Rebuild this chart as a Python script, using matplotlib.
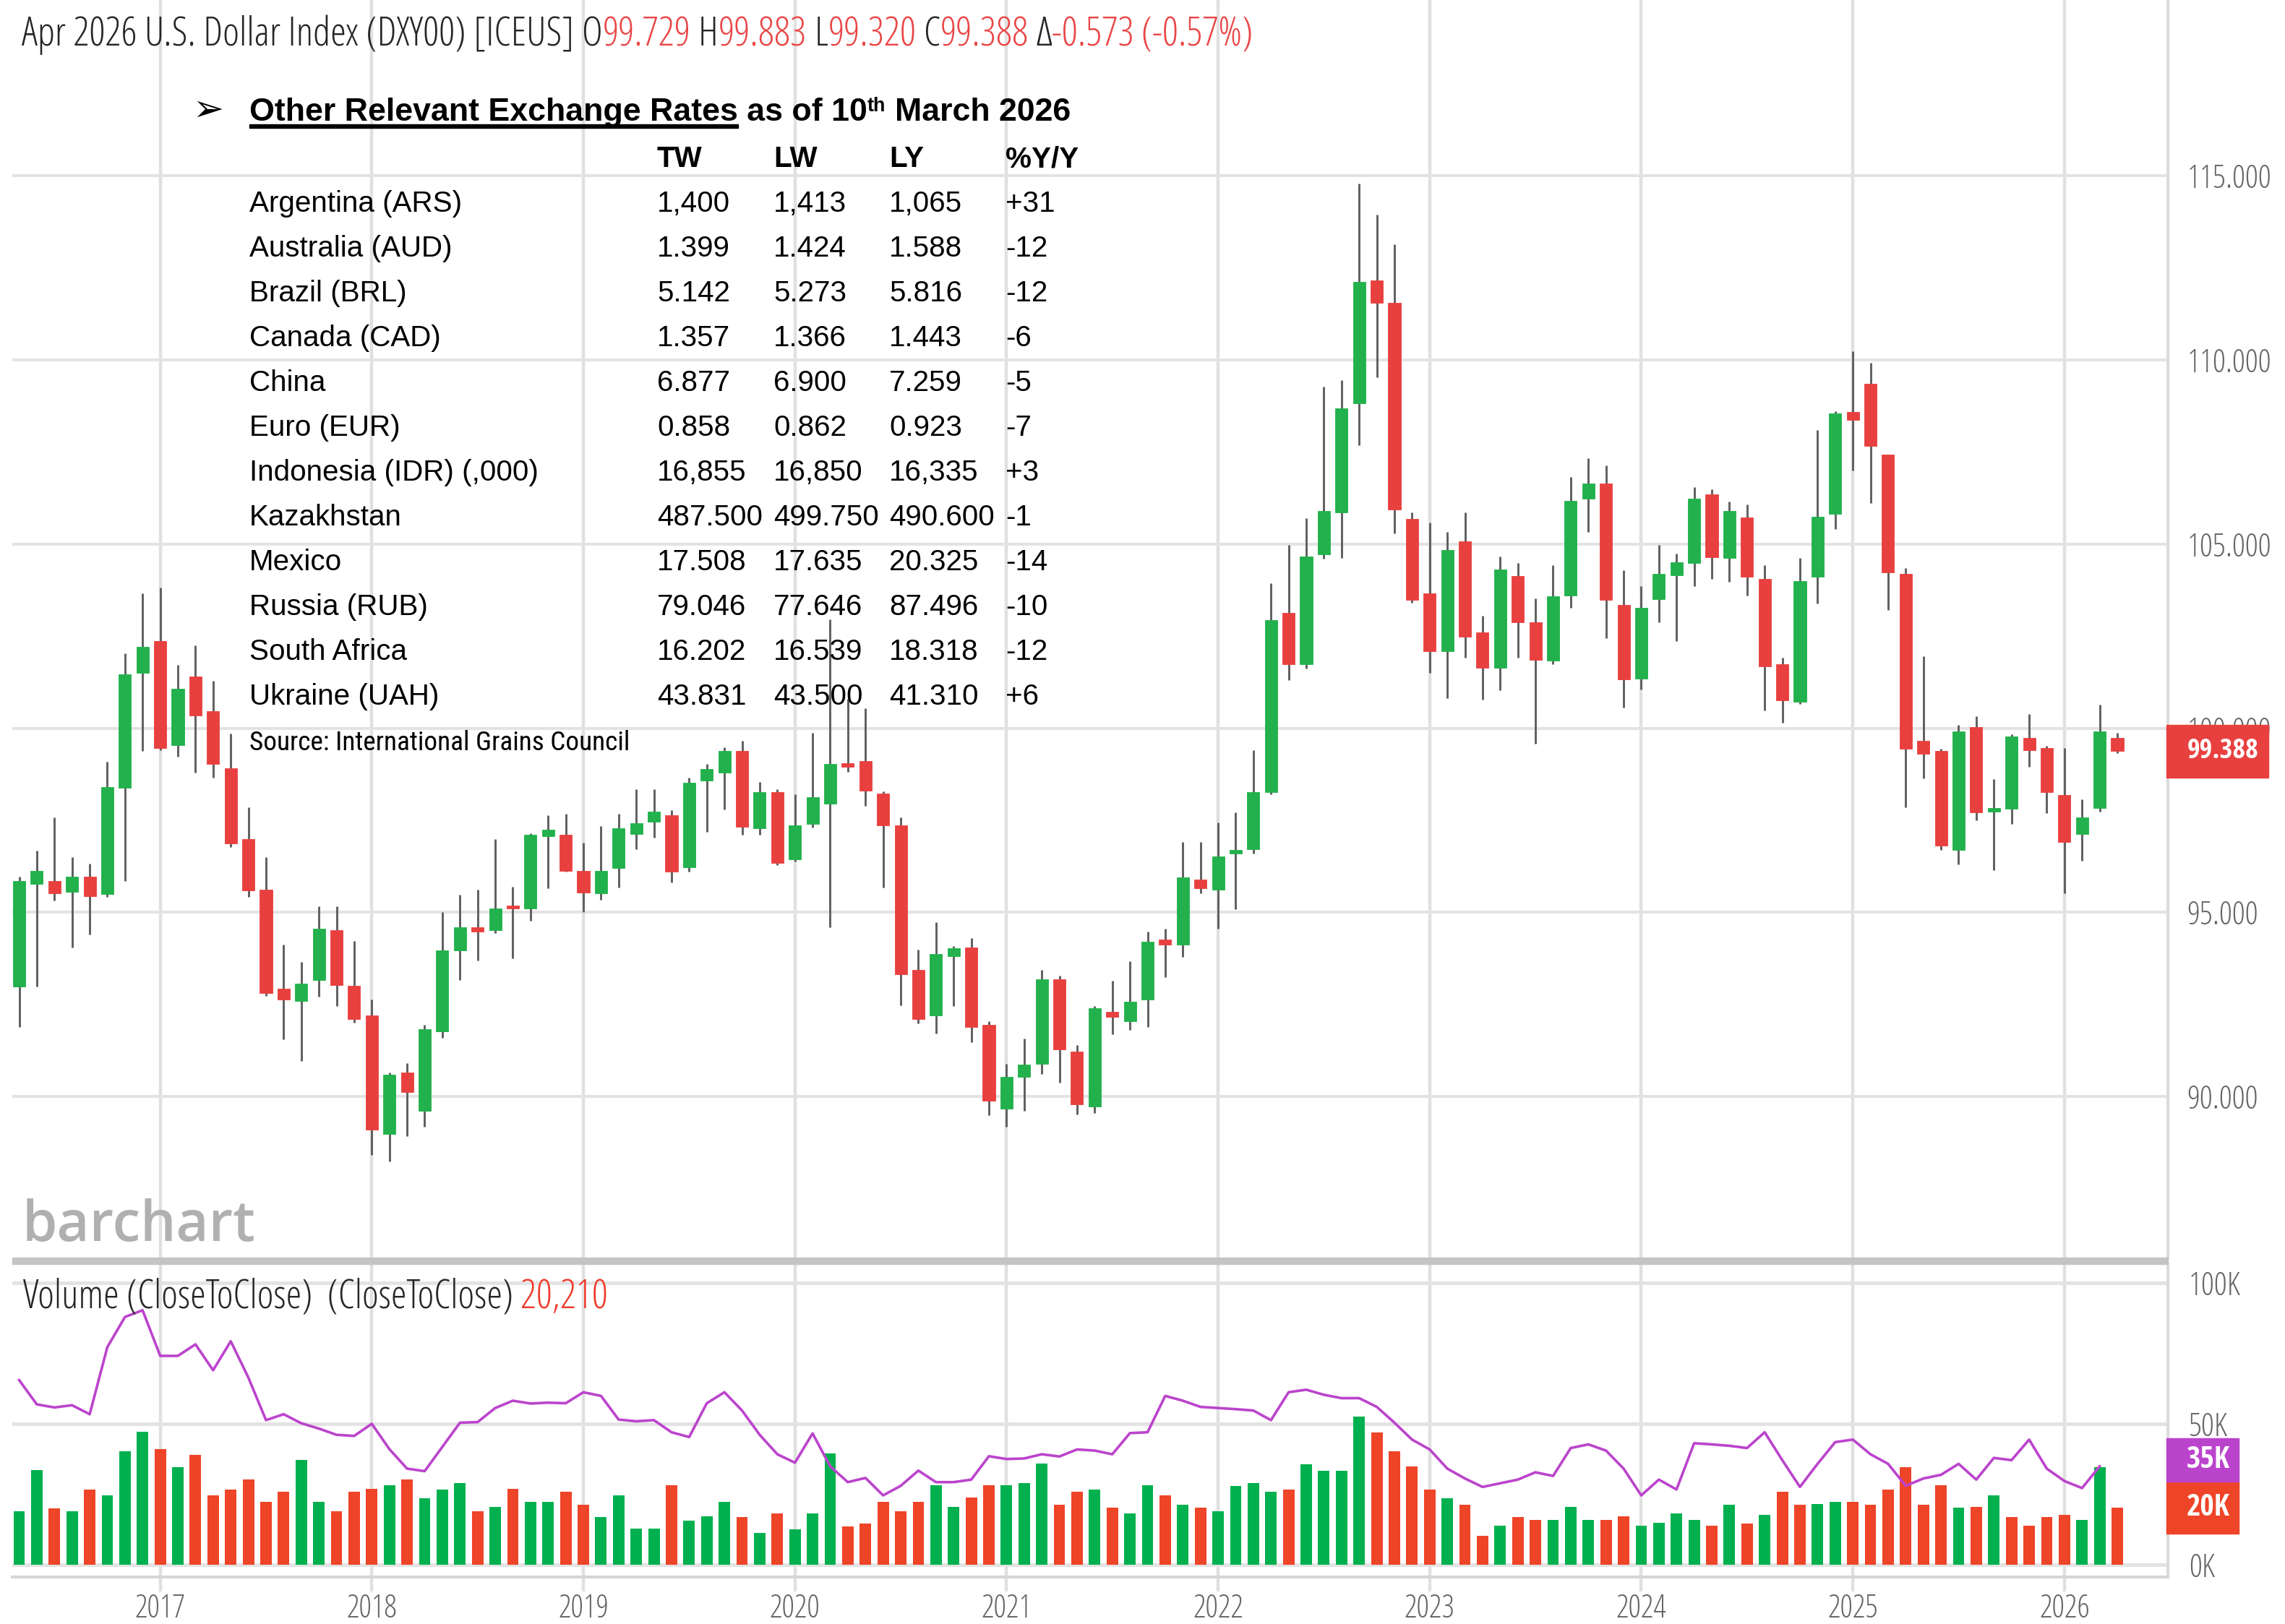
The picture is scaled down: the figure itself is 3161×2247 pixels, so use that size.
import matplotlib
matplotlib.use("Agg")
import matplotlib.pyplot as plt
from matplotlib import font_manager
from matplotlib.font_manager import FontProperties
from matplotlib.patches import Rectangle
import numpy as np
import pandas as pd

# ---------------- data ----------------
months = pd.date_range("2016-05-01", "2026-04-01", freq="MS")

opens = [92.98, 95.77, 95.86, 95.56, 95.97, 95.50, 98.39, 101.50,
         102.37, 99.54, 101.40, 100.46, 98.92, 96.99, 95.62, 92.92, 92.60, 93.17, 94.52, 93.01,
         92.20, 88.98, 90.65, 89.62, 91.77, 93.96, 94.59, 94.52, 95.16, 95.11, 97.06, 97.10,
         96.13, 95.52, 96.20, 97.13, 97.47, 97.63, 96.22, 98.57, 98.80, 99.38, 97.28, 98.26,
         96.45, 97.40, 97.96, 99.01, 99.11, 98.23, 97.37, 93.44, 92.20, 93.82, 94.05, 91.94,
         89.68, 90.54, 90.89, 93.19, 91.22, 89.74, 92.31, 92.05, 92.63, 94.26, 94.12, 95.90,
         95.61, 96.60, 96.71, 98.27, 103.14, 101.74, 104.72, 105.86, 108.83, 112.16, 111.55, 105.68,
         103.67, 102.09, 105.07, 102.61, 101.65, 104.14, 102.88, 101.83, 103.61, 106.24, 106.64, 103.35,
         101.34, 103.51, 104.15, 104.49, 106.34, 104.62, 105.73, 104.06, 101.74, 100.72, 104.11, 105.81,
         108.58, 109.35, 107.43, 104.19, 99.66, 99.39, 96.70, 100.04, 97.74, 97.81, 99.73, 99.47,
         98.19, 97.13, 97.83, 99.729]
highs = [95.97, 96.67, 97.58, 96.50, 96.32, 99.09, 102.04, 103.66,
         103.82, 101.72, 102.24, 101.29, 99.86, 97.85, 96.50, 94.12, 93.66, 95.16, 95.16, 94.23,
         92.63, 90.65, 90.91, 91.94, 95.00, 95.48, 95.62, 97.00, 95.70, 97.15, 97.63, 97.67,
         96.90, 97.34, 97.67, 98.35, 98.35, 97.77, 98.66, 99.03, 99.48, 99.65, 98.55, 98.35,
         98.20, 99.87, 102.96, 100.80, 100.54, 98.28, 97.58, 93.98, 94.73, 94.09, 94.30, 92.05,
         90.89, 91.58, 93.44, 93.28, 91.40, 92.45, 93.15, 93.68, 94.47, 94.56, 96.92, 96.92,
         97.45, 97.71, 99.41, 103.93, 104.98, 105.71, 109.27, 109.45, 114.79, 113.95, 113.13, 105.86,
         105.59, 105.33, 105.85, 103.05, 104.66, 104.49, 103.53, 104.42, 106.82, 107.34, 107.13, 104.28,
         103.85, 104.98, 104.74, 106.55, 106.49, 106.15, 106.07, 104.43, 101.91, 104.62, 108.10, 108.61,
         110.23, 109.92, 107.43, 104.34, 101.96, 99.45, 100.09, 100.32, 98.62, 99.84, 100.38, 99.53,
         99.47, 98.06, 100.64, 99.883]
lows = [91.88, 92.98, 95.32, 94.05, 94.41, 95.43, 95.86, 99.39,
        99.41, 99.22, 98.80, 98.66, 96.77, 95.43, 92.74, 91.56, 90.97, 92.71, 92.45, 92.00,
        88.42, 88.23, 88.92, 89.19, 91.60, 93.17, 93.69, 94.44, 93.76, 94.78, 95.65, 96.10,
        95.00, 95.34, 95.67, 96.72, 97.02, 95.81, 96.10, 97.18, 97.80, 97.10, 97.10, 96.29,
        96.38, 97.30, 94.59, 98.82, 97.90, 95.67, 92.47, 91.99, 91.72, 92.45, 91.47, 89.49,
        89.19, 89.62, 90.61, 90.38, 89.52, 89.56, 91.70, 91.81, 91.89, 93.24, 93.80, 95.52,
        94.56, 95.08, 96.60, 98.20, 101.30, 101.62, 104.60, 104.63, 107.69, 109.53, 105.29, 103.40,
        101.51, 100.81, 101.91, 100.77, 101.04, 101.91, 99.58, 101.74, 103.26, 105.33, 102.44, 100.57,
        101.06, 102.87, 102.36, 103.85, 104.06, 103.97, 103.60, 100.49, 100.15, 100.66, 103.38, 105.41,
        107.00, 106.12, 103.21, 97.85, 98.64, 96.70, 96.30, 97.51, 96.15, 97.40, 98.96, 97.69,
        95.51, 96.41, 97.74, 99.320]
closes = [95.86, 96.13, 95.51, 95.97, 95.45, 98.41, 101.47, 102.20,
          99.46, 101.08, 100.34, 99.03, 96.88, 95.59, 92.82, 92.63, 93.06, 94.55, 93.03, 92.10,
          89.11, 90.59, 90.13, 91.83, 93.96, 94.60, 94.48, 95.11, 95.10, 97.10, 97.24, 96.13,
          95.54, 96.13, 97.28, 97.42, 97.74, 96.11, 98.52, 98.89, 99.38, 97.33, 98.26, 96.34,
          97.37, 98.12, 99.03, 98.96, 98.30, 97.37, 93.33, 92.10, 93.87, 94.03, 91.88, 89.89,
          90.54, 90.86, 93.19, 91.29, 89.78, 92.40, 92.16, 92.58, 94.21, 94.12, 95.96, 95.66,
          96.52, 96.68, 98.27, 102.93, 101.74, 104.66, 105.89, 108.69, 112.11, 111.55, 105.94, 103.49,
          102.09, 104.84, 102.49, 101.65, 104.31, 102.88, 101.86, 103.58, 106.17, 106.64, 103.49, 101.32,
          103.26, 104.19, 104.51, 106.23, 104.65, 105.89, 104.11, 101.68, 100.75, 104.00, 105.75, 108.55,
          108.38, 107.66, 104.23, 99.44, 99.30, 96.81, 99.92, 97.72, 97.79, 99.78, 99.41, 98.26,
          96.92, 97.58, 99.92, 99.388]

volume_k = [19.0, 33.6, 20.0, 19.0, 26.7, 24.6, 40.3, 47.2,
            41.0, 34.7, 39.1, 24.7, 26.7, 30.2, 22.4, 25.9, 37.1, 22.4, 19.1, 25.9,
            26.9, 28.2, 30.2, 23.7, 26.7, 29.1, 19.1, 20.4, 26.9, 22.4, 22.4, 25.9,
            21.4, 17.0, 24.6, 12.7, 12.7, 28.2, 15.7, 17.2, 22.3, 16.8, 11.2, 18.1,
            12.5, 18.1, 39.4, 13.5, 14.7, 22.4, 19.0, 22.4, 28.2, 20.4, 23.9, 28.2,
            28.2, 28.9, 35.8, 21.3, 25.9, 26.7, 20.3, 18.1, 28.2, 24.6, 21.3, 20.3,
            19.0, 28.0, 28.9, 25.9, 26.7, 35.6, 33.4, 33.4, 52.6, 47.0, 40.3, 34.9,
            26.7, 23.7, 21.3, 10.3, 13.8, 17.0, 15.8, 15.8, 20.4, 15.9, 15.9, 17.2,
            13.8, 14.8, 18.1, 15.9, 13.8, 21.3, 14.7, 17.8, 25.9, 21.3, 21.6, 22.4,
            22.2, 21.3, 26.7, 34.7, 21.3, 28.2, 20.3, 20.4, 24.6, 16.8, 13.8, 17.0,
            17.8, 15.8, 34.5, 20.21]
volume_dir = ("uududuuu"
              "dudddddduudd"
              "duduuududuud"
              "duuuuduuudud"
              "uuuddddduudd"
              "uuudduduudud"
              "uuuuduuuuddd"
              "duddudduuudd"
              "uuuudududduu"
              "ddddddududdd"
              "duud")
volume_avg_k = [65.5, 56.9, 55.8, 56.6, 53.4, 77.2, 87.9, 90.3,
                74.1, 74.1, 78.2, 69.0, 79.3, 66.4, 51.3, 53.4, 50.2, 48.3, 46.1, 45.7,
                50.0, 41.0, 34.1, 33.2, 41.8, 50.4, 50.6, 55.6, 58.2, 57.2, 57.5, 57.3,
                61.2, 59.9, 51.5, 50.9, 51.3, 47.0, 45.3, 57.3, 61.2, 54.7, 46.1, 39.2,
                36.2, 46.6, 34.9, 29.3, 30.8, 24.6, 28.0, 33.4, 29.3, 29.3, 30.2, 38.5,
                37.5, 37.7, 39.2, 38.4, 40.9, 40.5, 39.2, 46.7, 47.0, 59.9, 58.2, 56.0,
                55.6, 55.2, 54.7, 51.3, 61.2, 62.1, 60.3, 59.1, 59.1, 56.0, 50.4, 44.4,
                40.9, 34.1, 30.6, 27.6, 28.9, 30.2, 32.8, 31.5, 41.4, 42.7, 40.5, 34.1,
                24.6, 30.2, 26.7, 43.1, 42.7, 42.2, 41.4, 47.0, 37.1, 27.6, 35.8, 43.5,
                44.4, 39.2, 35.8, 28.0, 30.6, 31.9, 35.8, 30.2, 37.9, 37.1, 44.4, 34.1,
                29.7, 27.2, 34.9]

price_ticks = [90, 95, 100, 105, 110, 115]
price_tick_labels = ["90.000", "95.000", "100.000", "105.000", "110.000", "115.000"]
vol_ticks = [0, 50, 100]
vol_tick_labels = ["0K", "50K", "100K"]

header_parts = [("Apr 2026 U.S. Dollar Index (DXY00) [ICEUS] O", "d"), ("99.729", "r"),
                (" H", "d"), ("99.883", "r"), (" L", "d"), ("99.320", "r"),
                (" C", "d"), ("99.388", "r"), (" \u0394", "d"), ("-0.573 (-0.57%)", "r")]
last_price_label = "99.388"
vol_label_parts = [("Volume (CloseToClose)  (CloseToClose) ", "d"), ("20,210", "r")]
vol_tag_avg = "35K"
vol_tag_last = "20K"

table_cols = ["TW", "LW", "LY", "%Y/Y"]
table_countries = ["Argentina (ARS)", "Australia (AUD)", "Brazil (BRL)", "Canada (CAD)", "China",
                   "Euro (EUR)", "Indonesia (IDR) (,000)", "Kazakhstan", "Mexico", "Russia (RUB)",
                   "South Africa", "Ukraine (UAH)"]
table_tw = ["1,400", "1.399", "5.142", "1.357", "6.877", "0.858", "16,855", "487.500",
            "17.508", "79.046", "16.202", "43.831"]
table_lw = ["1,413", "1.424", "5.273", "1.366", "6.900", "0.862", "16,850", "499.750",
            "17.635", "77.646", "16.539", "43.500"]
table_ly = ["1,065", "1.588", "5.816", "1.443", "7.259", "0.923", "16,335", "490.600",
            "20.325", "87.496", "18.318", "41.310"]
table_yy = ["+31", "-12", "-12", "-6", "-5", "-7", "+3", "-1", "-14", "-10", "-12", "+6"]
table_source = "Source: International Grains Council"

# ---------------- fonts ----------------
avail = {f.name for f in font_manager.fontManager.ttflist}
def pick(*cands):
    for c in cands:
        if c in avail:
            return c
    return "DejaVu Sans"

def find_file(fn):
    for f in font_manager.fontManager.ttflist:
        if f.fname.endswith(fn):
            return f.fname
    return None

_cl = find_file("OpenSans-CondLight.ttf")
_cb = find_file("OpenSans-CondBold.ttf")
def FP_COND(size):
    if _cl:
        return FontProperties(fname=_cl, size=size)
    return FontProperties(family=pick("Roboto Condensed", "DejaVu Sans"), size=size)
def FP_CONDB(size):
    if _cb:
        return FontProperties(fname=_cb, size=size)
    return FontProperties(family=pick("Roboto Condensed", "DejaVu Sans"), size=size, weight="bold")

ARIAL = pick("Liberation Sans", "Arimo", "DejaVu Sans")
NARROW = pick("Roboto Condensed", "Archivo Narrow", ARIAL)
LOGO = pick("Open Sans", "Lato", "DejaVu Sans")
def FP_ARIAL(size, weight="normal"):
    return FontProperties(family=ARIAL, size=size, weight=weight)
def FP_NARROW(size):
    return FontProperties(family=NARROW, size=size)
def FP_LOGO(size):
    return FontProperties(family=LOGO, size=size, weight="semibold")

# ---------------- colours ----------------
UP = "#22b14c"
DN = "#e8403f"
VUP = "#00b04f"
VDN = "#ee4428"
PURPLE = "#bb44cc"
WICK = "#5f5f5f"
GRID = "#e3e3e3"
DARK = "#262626"
HRED = "#ea4646"
AXTXT = "#666666"

# ---------------- figure ----------------
W, H = 3161, 2247
fig = plt.figure(figsize=(W / 100, H / 100), dpi=100)
R_ = fig.canvas.get_renderer()

def tw(s, fpf, size):
    fp = fpf(size)
    a = R_.get_text_width_height_descent("|" + s + "|", fp, ismath=False)[0]
    b = R_.get_text_width_height_descent("||", fp, ismath=False)[0]
    return a - b

def fit(s, fpf, target):
    return 30.0 * target / tw(s, fpf, 30.0)

def ftext(xpx, ypx, s, **kw):
    return fig.text(xpx / W, 1 - ypx / H, s, **kw)

def pieces(xpx, ypx, parts, fpf, size, colors):
    acc = ""
    for s, c in parts:
        lead = len(s) - len(s.lstrip())
        ftext(xpx + tw(acc + s[:lead], fpf, size), ypx, s.lstrip(), color=colors[c],
              fontproperties=fpf(size), va="baseline", ha="left")
        acc += s

L_PX, R_PX = 17, 2999
x = np.arange(len(months))
year_pos = [i for i, m in enumerate(months) if m.month == 1]
year_lab = [str(months[i].year) for i in year_pos]
XLIM = (-0.39, 121.87)

ax = fig.add_axes([L_PX / W, 1 - 1740 / H, (R_PX - L_PX) / W, 1740 / H])
axv = fig.add_axes([L_PX / W, 1 - 2182 / H, (R_PX - L_PX) / W, (2182 - 1749) / H])

# price pane
ax.set_xlim(*XLIM)
ax.set_ylim(85.63, 119.77)
o = np.array(opens); c = np.array(closes); hi = np.array(highs); lo = np.array(lows)
up = c >= o
cols = np.where(up, UP, DN)
ax.vlines(x, lo, hi, color=WICK, lw=2.1, zorder=3)
body_bot = np.minimum(o, c)
body_h = np.maximum(np.abs(c - o), 0.09)
ax.bar(x, body_h, bottom=body_bot, width=0.7, color=cols, edgecolor=cols, lw=0.6, zorder=4)

ax.set_yticks(price_ticks)
ax.set_yticklabels(price_tick_labels)
ax.yaxis.tick_right()
ax.set_xticks(year_pos)
ax.set_xticklabels([])
ax.tick_params(axis="x", length=0)
ax.tick_params(axis="y", length=0, pad=19, labelcolor=AXTXT)
ax.grid(axis="y", color=GRID, lw=2.9, zorder=0)
ax.grid(axis="x", color="#e0e0e0", lw=3.2, zorder=0)
ax.set_axisbelow(True)
for s in ["left", "top", "bottom"]:
    ax.spines[s].set_visible(False)
ax.spines["right"].set_color("#dcdcdc")
ax.spines["right"].set_linewidth(3)

# volume pane
axv.set_xlim(*XLIM)
axv.set_ylim(-4.36, 106.67)
vcols = [VUP if d == "u" else VDN for d in volume_dir]
axv.bar(x, volume_k, width=0.65, color=vcols, zorder=3)
axv.plot(x[:len(volume_avg_k)], volume_avg_k, color=PURPLE, lw=2.6, zorder=4)
axv.set_yticks(vol_ticks)
axv.set_yticklabels(vol_tick_labels)
axv.yaxis.tick_right()
axv.set_xticks(year_pos)
axv.set_xticklabels(year_lab)
axv.tick_params(axis="y", length=0, pad=21, labelcolor=AXTXT)
axv.tick_params(axis="x", length=14.4, width=3.2, color="#e0e0e0", pad=1.5, labelcolor=AXTXT)
axv.grid(axis="y", color=GRID, lw=3.6, zorder=0)
axv.grid(axis="x", color="#e0e0e0", lw=3.2, zorder=0)
axv.set_axisbelow(True)
for s in ["left", "top"]:
    axv.spines[s].set_visible(False)
axv.spines["right"].set_color("#dcdcdc")
axv.spines["right"].set_linewidth(3)
axv.spines["bottom"].set_color("#d6d6d6")
axv.spines["bottom"].set_linewidth(3)

# axis label fonts
ax_fs = fit("110.000", FP_COND, 117)
for lbl in ax.get_yticklabels() + axv.get_yticklabels():
    lbl.set_fontproperties(FP_COND(ax_fs))
for lbl in axv.get_xticklabels():
    lbl.set_fontproperties(FP_COND(ax_fs * 0.97))

# separator band between panes
fig.patches.append(Rectangle((L_PX / W, 1 - 1749 / H), (R_PX - L_PX) / W, 9 / H,
                             transform=fig.transFigure, color="#c4c4c4", zorder=5))

# header
colors_map = {"d": DARK, "r": HRED}
hdr_full = "".join(p for p, _ in header_parts)
hdr_fs = fit(hdr_full, FP_COND, 1704)
pieces(30, 63, header_parts, FP_COND, hdr_fs, colors_map)

# volume label
vl_full = "".join(p for p, _ in vol_label_parts)
vl_fs = fit(vl_full, FP_COND, 810)
pieces(32, 1810, vol_label_parts, FP_COND, vl_fs, {"d": DARK, "r": "#ee3b2b"})

# last price tag
yd = ax.transData.transform((0, closes[-1]))[1]
yc_px = H - yd
fig.patches.append(Rectangle((2997 / W, 1 - (yc_px + 37) / H), 141 / W, 73 / H,
                             transform=fig.transFigure, color=DN, zorder=10))
tag_fs = fit(last_price_label, FP_CONDB, 99)
ftext(3026, yc_px, last_price_label, color="white", fontproperties=FP_CONDB(tag_fs),
      va="center", ha="left", zorder=11)

# volume tags
yl = H - axv.transData.transform((0, volume_k[-1]))[1]
ya = H - axv.transData.transform((0, volume_avg_k[-1]))[1]
red_top = yl - 36
fig.patches.append(Rectangle((2997 / W, 1 - (yl + 36) / H), 100 / W, 72 / H,
                             transform=fig.transFigure, color=VDN, zorder=10))
pur_bot = min(ya + 30, red_top)
fig.patches.append(Rectangle((2997 / W, 1 - pur_bot / H), 100 / W, 60 / H,
                             transform=fig.transFigure, color=PURPLE, zorder=10))
vt_fs = fit(vol_tag_avg, FP_CONDB, 60)
ftext(3025, pur_bot - 30, vol_tag_avg, color="white", fontproperties=FP_CONDB(vt_fs),
      va="center", ha="left", zorder=11)
ftext(3025, yl, vol_tag_last, color="white", fontproperties=FP_CONDB(vt_fs),
      va="center", ha="left", zorder=11)

# barchart logo
logo_fs = fit("barchart", FP_LOGO, 322)
ftext(31, 1717, "barchart", color="#b0b0b0", fontproperties=FP_LOGO(logo_fs),
      va="baseline", ha="left")

# ---------------- table ----------------
def FP_AB(size):
    return FP_ARIAL(size, "bold")
def FP_AR(size):
    return FP_ARIAL(size)

row_fs = fit("Indonesia (IDR) (,000)", FP_AR, 399)
p1 = "Other Relevant Exchange Rates"
p2 = " as of 10"
p3 = "th"
p4 = " March 2026"
base = 30.0
wtot = tw(p1 + p2, FP_AB, base) + tw(p3, FP_AB, base * 0.6) + tw(p4, FP_AB, base)
t_fs = base * 1137 / wtot
xt = 345
ytb = 167
ftext(xt, ytb, p1 + p2, fontproperties=FP_AB(t_fs), va="baseline", ha="left", color="black")
w12 = tw(p1 + p2, FP_AB, t_fs)
w1 = tw(p1, FP_AB, t_fs)
cap_px = 0.716 * t_fs * 100 / 72
ftext(xt + w12, ytb - 0.4 * cap_px, p3, fontproperties=FP_AB(t_fs * 0.6),
      va="baseline", ha="left", color="black")
w3 = tw(p3, FP_AB, t_fs * 0.6)
ftext(xt + w12 + w3 + tw(" ", FP_AB, t_fs), ytb, p4.lstrip(), fontproperties=FP_AB(t_fs),
      va="baseline", ha="left", color="black")
fig.patches.append(Rectangle((xt / W, 1 - 177 / H), w1 / W, 5 / H, transform=fig.transFigure,
                             color="black"))
ftext(266, ytb, "\u27a2", family=["DejaVu Sans"], fontsize=t_fs * 1.15, va="baseline",
      ha="left", color="black")

col_x = [909, 1070, 1230, 1391]
for cx, name in zip(col_x, table_cols):
    ftext(cx, 231, name, fontproperties=FP_AB(row_fs), va="baseline", ha="left", color="black")
for r in range(len(table_countries)):
    yb = 293 + r * 62
    vals = [table_countries[r], table_tw[r], table_lw[r], table_ly[r], table_yy[r]]
    for cx, v in zip([345] + col_x, vals):
        ftext(cx, yb, v, fontproperties=FP_AR(row_fs), va="baseline", ha="left", color="black")
src_fs = fit(table_source, FP_NARROW, 528)
ftext(345, 1038, table_source, fontproperties=FP_NARROW(src_fs), va="baseline", ha="left",
      color="black")

fig.savefig("out.png", dpi=100)
